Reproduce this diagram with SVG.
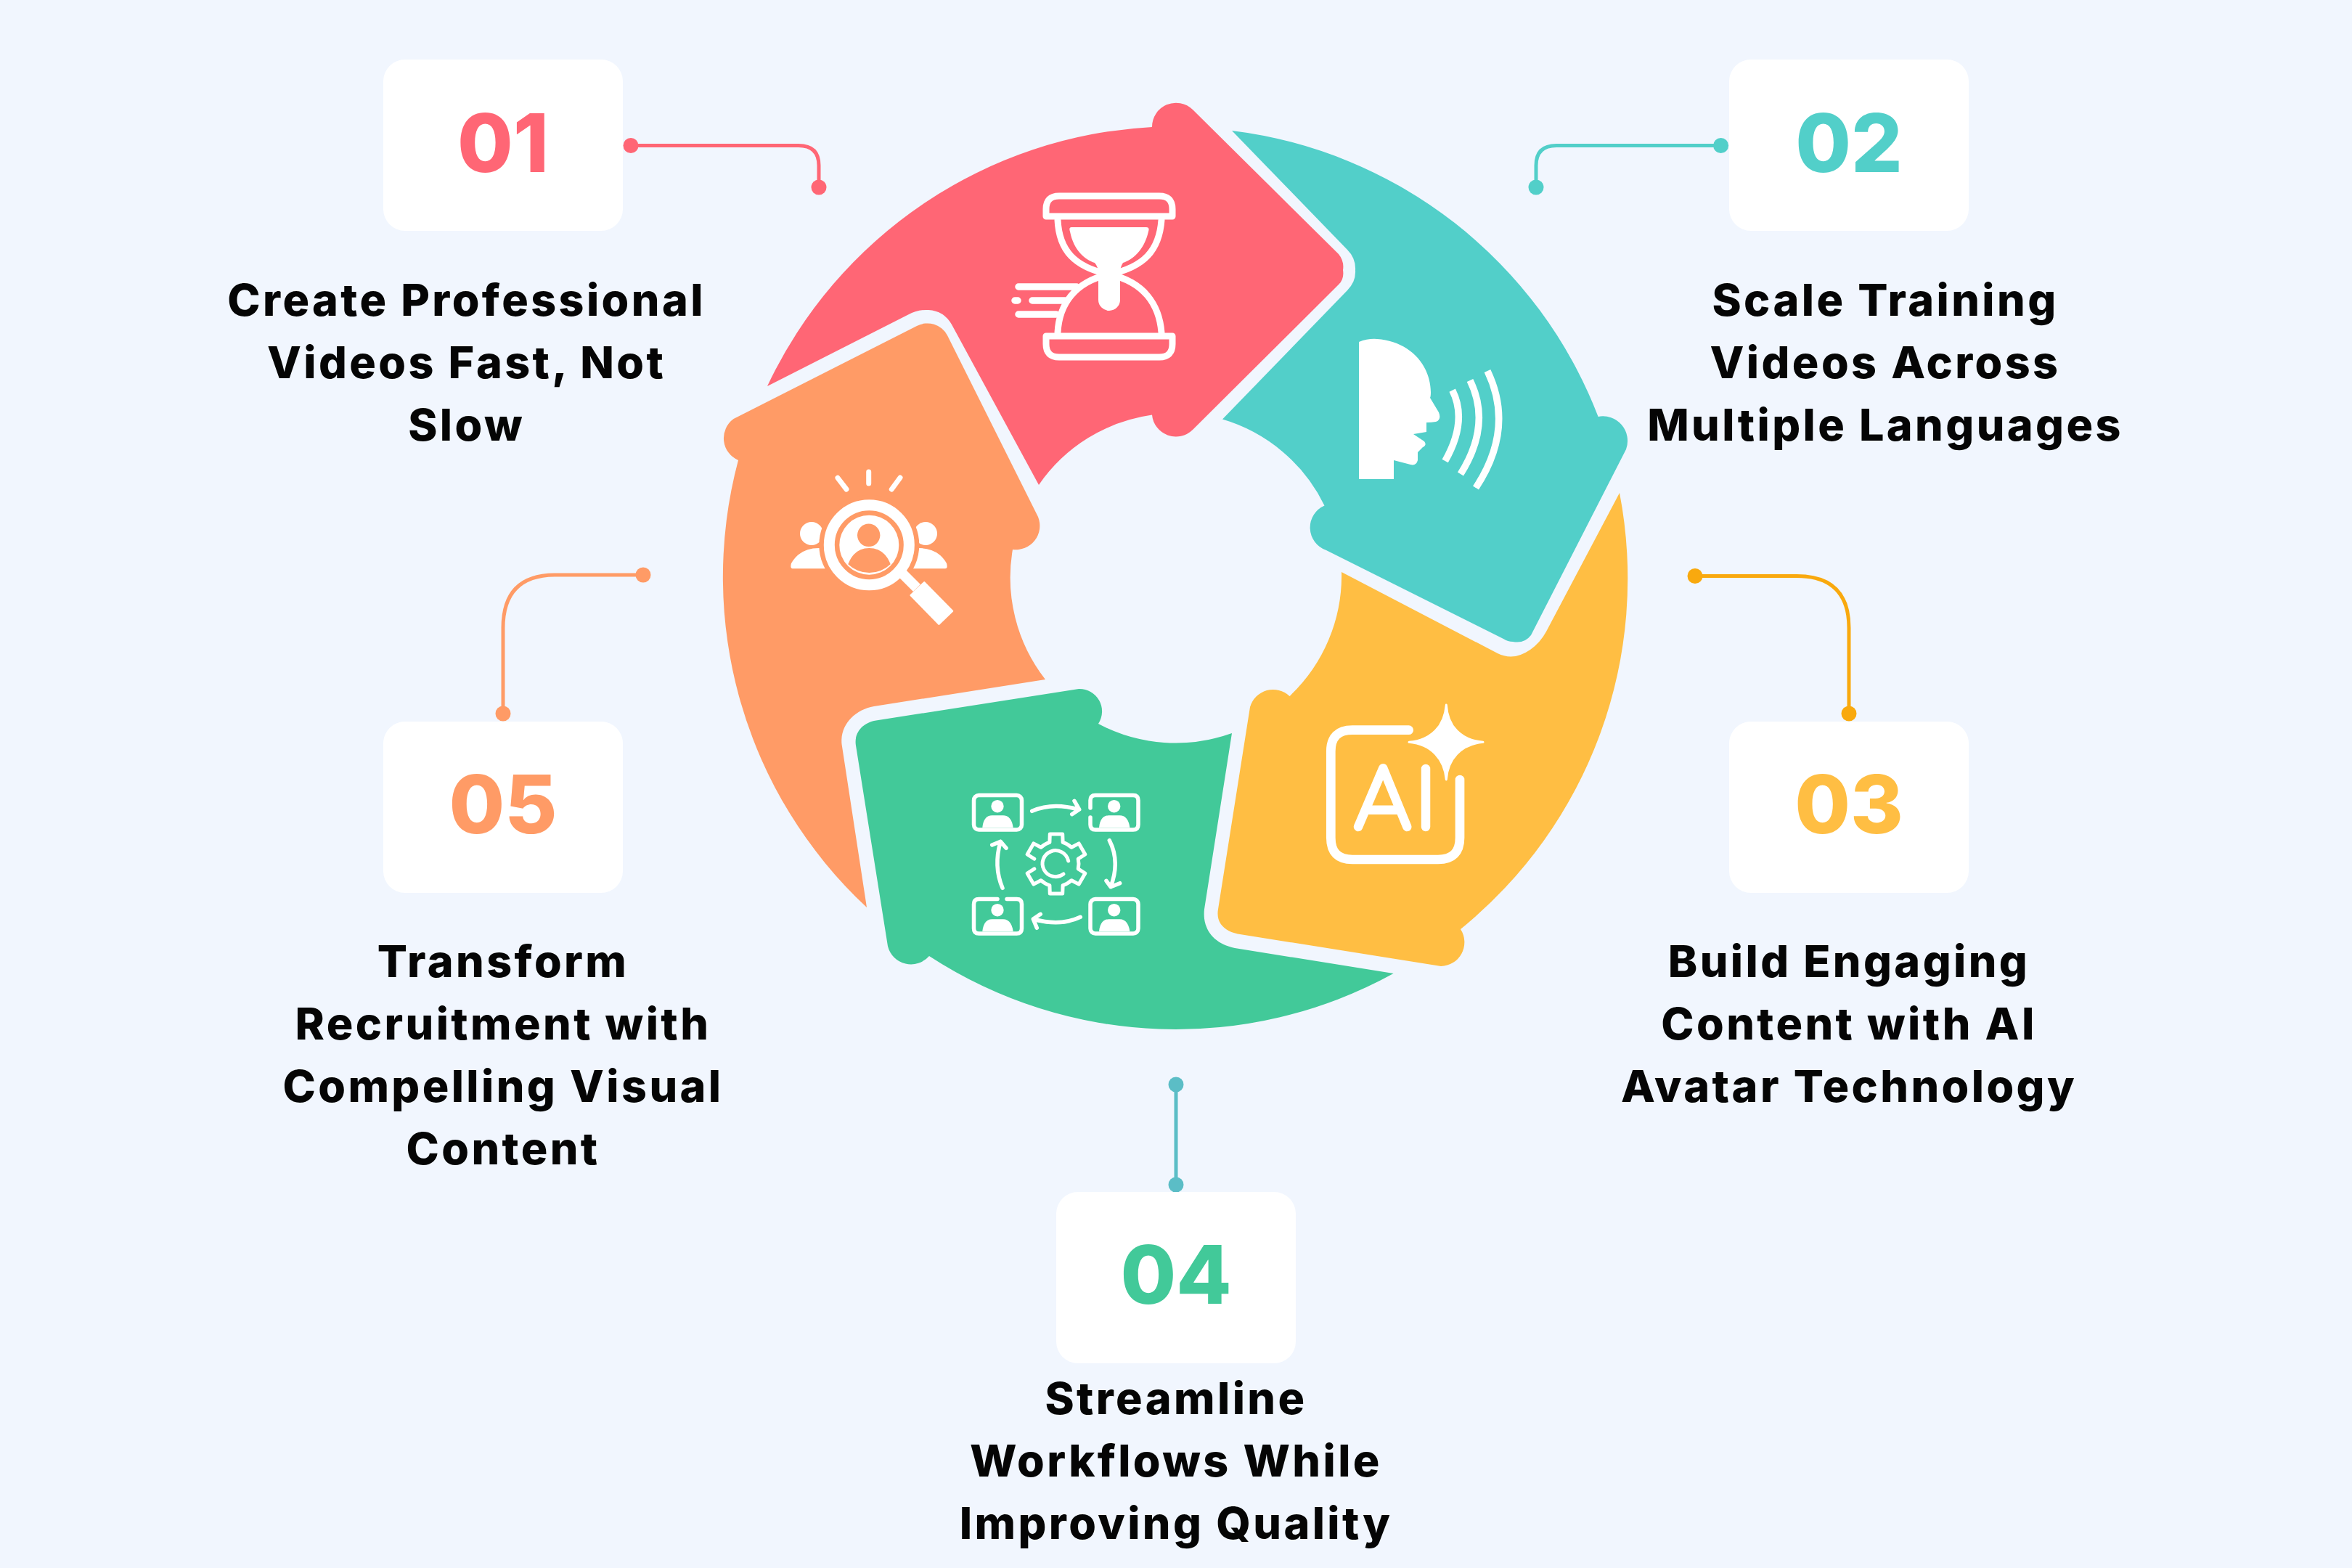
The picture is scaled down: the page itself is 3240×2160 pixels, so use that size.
<svg xmlns="http://www.w3.org/2000/svg" width="3240" height="2160" viewBox="0 0 3240 2160">
<style>
.card{fill:#fff}
.num{font-family:Inter,"Liberation Sans",sans-serif;font-weight:800;font-size:111px;text-anchor:middle}
.lbl{font-family:Inter,"Liberation Sans",sans-serif;font-weight:800;font-size:61px;letter-spacing:3.4px;text-anchor:middle;fill:#050505}
.conn{fill:none;stroke-width:5}
.ln{fill:none;stroke:#fff;stroke-linecap:round;stroke-linejoin:round}
.w{fill:#fff}
</style>
<defs>
<g id="person"><circle cx="1374" cy="1110.7" r="8.7" class="w"/><path class="w" d="M1353.3,1140Q1355,1123.3 1366.7,1123.3H1381.7Q1393.3,1123.3 1395.7,1140Z"/></g>
</defs>
<rect width="3240" height="2160" fill="#f1f6fe"/>
<g id="connectors">
<g stroke="#ff6675" fill="#ff6675"><path class="conn" d="M869,200.5H1100Q1128,200.5 1128,228V258"/><circle cx="869" cy="200.5" r="10.5" stroke="none"/><circle cx="1128" cy="258" r="10.5" stroke="none"/></g>
<g stroke="#52cfc9" fill="#52cfc9"><path class="conn" d="M2370.6,200.5H2144Q2116,200.5 2116,228V258"/><circle cx="2370.6" cy="200.5" r="10.5" stroke="none"/><circle cx="2116" cy="258" r="10.5" stroke="none"/></g>
<g stroke="#f9a90e" fill="#f9a90e"><path class="conn" d="M2335,793.5H2475Q2547,793.5 2547,865V983"/><circle cx="2335" cy="793.5" r="10.5" stroke="none"/><circle cx="2547" cy="983" r="10.5" stroke="none"/></g>
<g stroke="#5bbdc6" fill="#5bbdc6"><path class="conn" d="M1620,1494V1632"/><circle cx="1620" cy="1494" r="10.5" stroke="none"/><circle cx="1620" cy="1632" r="10.5" stroke="none"/></g>
<g stroke="#ff9b66" fill="#ff9b66"><path class="conn" d="M886,792H765Q693,792 693,865V983"/><circle cx="886" cy="792" r="10.5" stroke="none"/><circle cx="693" cy="983" r="10.5" stroke="none"/></g>
</g>
<g id="seg-red">
<path fill="#ff6675" d="M1057,532A622,622 0 0 1 1587,175A33,33 0 0 1 1643,151L1844,350Q1852,360 1850,372Q1852,384 1844,392L1643,592A33,33 0 0 1 1587,571.5A228,228 0 0 0 1431,668L1311,447Q1300,428 1279,427Q1264,426 1250,434Z"/>
<path class="ln" stroke-width="9" d="M1441,298V288Q1441,270 1459,270H1597Q1615,270 1615,288V298ZM1441,463H1615V474Q1615,492 1597,492H1459Q1441,492 1441,474Z"/>
<path class="ln" stroke-width="9" d="M1457,303C1459,345 1480,368 1528,378C1576,368 1597,345 1600,303M1457,458C1459,420 1480,388 1528,378C1576,388 1597,420 1600,458"/>
<path class="w" d="M1476,313H1579Q1584,313 1582,319C1576,345 1560,358 1547,362Q1543,368 1543,376V413A15,15 0 0 1 1513,413V376Q1513,368 1508,362C1495,358 1479,345 1474,319Q1472,313 1476,313Z"/>
<path class="ln" stroke-width="9.5" d="M1403,395H1483M1398,414H1402M1422,414H1467M1403,433H1455"/>
</g>
<g id="seg-teal">
<path fill="#52cfc9" d="M1697,180A622,622 0 0 1 2201.6,574A34,34 0 0 1 2240,619L2109,875Q2100,887 2084,884Q2077,884 2071,880L1827,758A33,33 0 0 1 1824.5,696.5A228,228 0 0 0 1684,577.6L1856,400Q1868,388 1867,372.5Q1868,356 1856,344Z"/>
<path class="w" d="M1872,471Q1885,466 1897,467C1940,470 1970,500 1971,540Q1971,546 1970,548L1982,568Q1986,578 1978,581Q1972,582 1965,582V595L1947,598L1962,608Q1966,613 1960,616L1953,623V634Q1951,642 1943,640L1920,634V660H1872Z"/>
<path fill="none" stroke="#fff" stroke-width="9.5" d="M2000.7,537.7Q2022,580 1990.7,635M2025,524Q2055,585 2012,653M2049,511Q2087,590 2033,672"/>
</g>
<g id="seg-yellow">
<path fill="#ffbe43" d="M1848,788L2063,900Q2085,911 2108,895Q2122,885 2130,870L2231,679A622,622 0 0 1 2012,1280A33,33 0 0 1 1985,1331L1705,1286.5C1685,1282 1675,1270 1678,1252.6L1722,974A33,33 0 0 1 1776.5,959A228,228 0 0 0 1848,788Z"/>
<path class="ln" stroke-width="12.7" d="M1940.7,1005.7H1863Q1833.3,1005.7 1833.3,1035V1154Q1833.3,1184 1863,1184H1981Q2011,1184 2011,1154V1074"/>
<path class="ln" stroke-width="12.5" d="M1871,1139L1905.3,1058.3L1938.3,1139M1881.7,1115.7H1928.3M1964,1059V1139"/>
<path class="w" stroke="#fff" stroke-width="3" stroke-linejoin="round" d="M1992.3,971C1994,1000 2012,1020 2043,1022.3C2012,1025 1994,1046 1992.3,1074C1990,1046 1972,1025 1941,1022.3C1972,1020 1990,1000 1992.3,971Z"/>
</g>
<g id="seg-green">
<path fill="#42c999" d="M1697,1010L1659,1252.6C1656,1280 1672,1300 1701,1306L1919.6,1341A622,622 0 0 1 1280,1317A33,33 0 0 1 1223,1303.5L1179,1027C1176,1008 1190,994 1210,992L1486,949A31,31 0 0 1 1513,997A228,228 0 0 0 1697,1010Z"/>
<g class="ln" stroke-width="5.5">
<rect x="1341.5" y="1095.5" width="66" height="47.5" rx="7" fill="none"/>
<path d="M1502,1113V1102.5Q1502,1095.5 1509,1095.5H1561Q1568,1095.5 1568,1102.5V1136Q1568,1143 1561,1143H1509Q1502,1143 1502,1136V1126"/>
<path d="M1374,1238.5H1348.5Q1341.5,1238.5 1341.5,1245.5V1279Q1341.5,1286 1348.5,1286H1400.5Q1407.5,1286 1407.5,1279V1245.5Q1407.5,1238.5 1400.5,1238.5H1387"/>
<rect x="1502" y="1238.5" width="66" height="47.5" rx="7" fill="none"/>
<path d="M1421.7,1117.3Q1450,1105 1485,1115M1480,1103.3L1486.7,1115L1476.7,1121.7"/>
<path d="M1528.3,1157.7Q1543.3,1186.7 1530,1221.7M1524,1213.3L1530,1221.7L1542.7,1216.7"/>
<path d="M1488.3,1263.3Q1460,1276.7 1423.3,1266M1433.3,1259.3L1423.3,1266L1428.3,1278.3"/>
<path d="M1381,1223.3Q1368.3,1193.3 1378.3,1159.3M1366.7,1164L1378.3,1159.3L1386,1168.3"/>
<path stroke-width="5" transform="translate(1455 1190)" d="M-30.2,-6.9L-39.9,-13L-31.2,-28.1L-21.1,-22.7A31,31 0 0 1 -9.1,-29.6L-8.7,-41.1H8.7L9.1,-29.6A31,31 0 0 1 21.1,-22.7L31.2,-28.1L39.9,-13L30.2,-6.9A31,31 0 0 1 30.2,6.9L39.9,13L31.2,28.1L21.1,22.7A31,31 0 0 1 9.1,29.6L8.7,41.1H-8.7L-9.1,29.6A31,31 0 0 1 -21.1,22.7L-31.2,28.1L-39.9,13L-30.2,6.9"/>
<path stroke-width="5" d="M1471.7,1186A18,18 0 1 0 1465,1204"/>
</g>
<use href="#person"/>
<use href="#person" x="160.7"/>
<use href="#person" y="143"/>
<use href="#person" x="160.7" y="143"/>
</g>
<g id="seg-orange">
<path fill="#ff9b66" d="M1010.5,577L1263,449A31,31 0 0 1 1305,462L1430,712A33,33 0 0 1 1395,757A228,228 0 0 0 1440,936L1204,973C1176,978 1157,1000 1159.5,1025L1194,1250A622,622 0 0 1 1017,634A33,33 0 0 1 1010.5,577Z"/>
<circle class="w" cx="1118" cy="735" r="16"/><circle class="w" cx="1275" cy="735" r="16"/>
<path class="w" d="M1091.7,783.3Q1088,783 1090,776Q1102,755 1128,755H1150V783.3Z"/>
<path class="w" d="M1302,783.3Q1306,783 1304,776Q1292,755 1266,755H1245V783.3Z"/>
<circle cx="1197.3" cy="750.7" r="69" fill="#ff9b66"/>
<circle cx="1197.3" cy="750.7" r="55" fill="none" stroke="#fff" stroke-width="15"/>
<circle class="w" cx="1197.3" cy="750.7" r="41"/>
<circle cx="1196.7" cy="737.3" r="15.7" fill="#ff9b66"/>
<path fill="#ff9b66" d="M1168.3,777.3Q1176.7,755 1197.3,755Q1218.3,755 1226.7,777.3A42,42 0 0 1 1168.3,777.3Z"/>
<path fill="none" stroke="#fff" stroke-width="14" d="M1243,790L1263,810"/>
<path class="w" stroke="#fff" stroke-width="3" stroke-linejoin="round" d="M1273.3,802.7L1311.7,841.7L1293.3,859.3L1255,820Z"/>
<path class="ln" stroke-width="7" d="M1196.7,650V666M1154,658.3L1166,674M1240,658L1228.3,674"/>
</g>
<g id="node-01"><rect class="card" x="528" y="82" width="330" height="236" rx="30"/><text class="num" x="693" y="237" fill="#ff6675">01</text><text class="lbl"><tspan x="642.6" y="435">Create Professional</tspan><tspan x="642.6" y="521">Videos Fast, Not</tspan><tspan x="642.6" y="607">Slow</tspan></text></g>
<g id="node-02"><rect class="card" x="2382" y="82" width="330" height="236" rx="30"/><text class="num" x="2547" y="237" fill="#52cfc9">02</text><text class="lbl"><tspan x="2597" y="435">Scale Training</tspan><tspan x="2597" y="521">Videos Across</tspan><tspan x="2597" y="607">Multiple Languages</tspan></text></g>
<g id="node-03"><rect class="card" x="2382" y="994" width="330" height="236" rx="30"/><text class="num" x="2547" y="1148" fill="#ffbe43">03</text><text class="lbl"><tspan x="2547" y="1346">Build Engaging</tspan><tspan x="2547" y="1432">Content with AI</tspan><tspan x="2547" y="1518">Avatar Technology</tspan></text></g>
<g id="node-04"><rect class="card" x="1455" y="1642" width="330" height="236" rx="30"/><text class="num" x="1620" y="1796" fill="#42c999">04</text><text class="lbl"><tspan x="1620" y="1948">Streamline</tspan><tspan x="1620" y="2034">Workflows While</tspan><tspan x="1620" y="2120">Improving Quality</tspan></text></g>
<g id="node-05"><rect class="card" x="528" y="994" width="330" height="236" rx="30"/><text class="num" x="693" y="1148" fill="#ff9b66">05</text><text class="lbl"><tspan x="693" y="1346">Transform</tspan><tspan x="693" y="1432">Recruitment with</tspan><tspan x="693" y="1518">Compelling Visual</tspan><tspan x="693" y="1604">Content</tspan></text></g>
</svg>
